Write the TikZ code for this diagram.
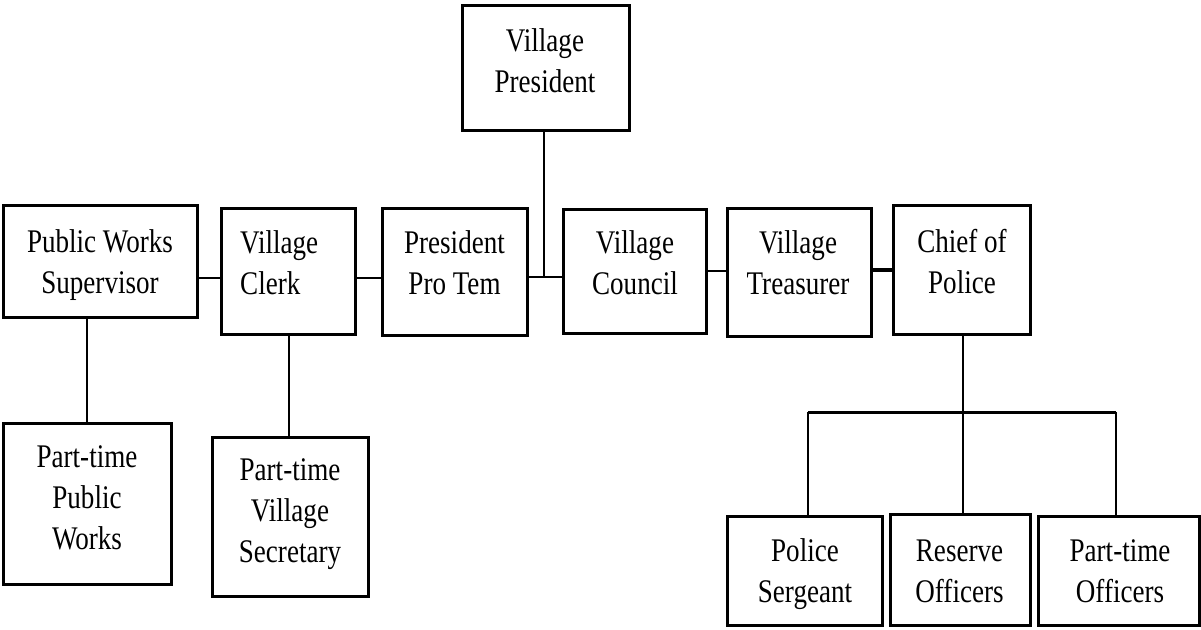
\documentclass[tikz,border=0pt]{standalone}
\usepackage{fontspec}
\setmainfont{Liberation Serif}[FakeStretch=0.82]
\newcommand\mytb[1]{\begin{tabular}[t]{@{}c@{}}#1\end{tabular}}
\newcommand\mytbl[1]{\begin{tabular}[t]{@{}l@{}}#1\end{tabular}}
\begin{document}
\begin{tikzpicture}[x=1pt,y=-1pt,
  box/.style={draw=black, line width=3pt, rectangle, inner sep=0pt, fill=white},
  txt/.style={anchor=base, inner sep=0pt, font=\fontsize{33}{41}\selectfont},
  link/.style={draw=black, line width=2.5pt}]
\useasboundingbox[fill=white] (0,0) rectangle (1201,629);
% boxes
\node[box, minimum width=167, minimum height=125] (pres) at (545.5,67.5) {};
\node[box, minimum width=194, minimum height=112] (pws) at (100,261) {};
\node[box, minimum width=134, minimum height=126] (clerk) at (288,271) {};
\node[box, minimum width=145, minimum height=127] (protem) at (454.5,271.5) {};
\node[box, minimum width=143, minimum height=124] (council) at (634.5,271) {};
\node[box, minimum width=144, minimum height=128] (treas) at (799,272) {};
\node[box, minimum width=137, minimum height=129] (chief) at (961.5,269.5) {};
\node[box, minimum width=168, minimum height=161] (ptpw) at (87,503.5) {};
\node[box, minimum width=156, minimum height=159] (ptsec) at (290,516.5) {};
\node[box, minimum width=155, minimum height=109] (sgt) at (804.5,570.5) {};
\node[box, minimum width=140, minimum height=111] (res) at (960,569.5) {};
\node[box, minimum width=161, minimum height=109] (pto) at (1118.5,570.5) {};
% texts
\node[txt] (tpres) at (545,51) {\mytb{Village\\President}};
\node[txt] (tpws) at (100,252) {\mytb{Public Works\\Supervisor}};
\node[txt, anchor=base west] (tclerk) at (240,253) {\mytbl{Village\\Clerk}};
\node[txt] (tprotem) at (454.5,253) {\mytb{President\\Pro Tem}};
\node[txt] (tcouncil) at (635,253) {\mytb{Village\\Council}};
\node[txt] (ttreas) at (798,253) {\mytb{Village\\Treasurer}};
\node[txt] (tchief) at (962,252) {\mytb{Chief of\\Police}};
\node[txt] (tptpw) at (87,467) {\mytb{Part-time\\Public\\Works}};
\node[txt] (tptsec) at (290,480) {\mytb{Part-time\\Village\\Secretary}};
\node[txt] (tsgt) at (805,561) {\mytb{Police\\Sergeant}};
\node[txt] (tres) at (959.5,561) {\mytb{Reserve\\Officers}};
\node[txt] (tpto) at (1120,561) {\mytb{Part-time\\Officers}};
% connector levels
\coordinate (r1) at (0,278);
\coordinate (r2) at (0,277);
\coordinate (r3) at (0,271);
\coordinate (r4) at (0,270);
\coordinate (bus) at (0,412);
\coordinate (busL) at (808,412);
\coordinate (busR) at (1116,412);
\coordinate (busM) at (963,412);
% connectors
\draw[link] (pws.east |- r1) -- (clerk.west |- r1);
\draw[link] (clerk.east |- r1) -- (protem.west |- r1);
\draw[link] (protem.east |- r2) -- (council.west |- r2);
\draw[link] (pres.south -| 544,0) -- (544,277);
\draw[link] (council.east |- r3) -- (treas.west |- r3);
\draw[link, line width=3.5pt] (treas.east |- r4) -- (chief.west |- r4);
\draw[link] (chief.south -| busM) -- (busM);
\draw[link, line width=3pt] (busL) -- (busR);
\draw[link] (busL) -- (sgt.north -| busL);
\draw[link] (busM) -- (res.north -| busM);
\draw[link] (busR) -- (pto.north -| busR);
\draw[link] (pws.south -| 87,0) -- (ptpw.north -| 87,0);
\draw[link] (clerk.south -| 289,0) -- (ptsec.north -| 289,0);
\end{tikzpicture}
\end{document}
